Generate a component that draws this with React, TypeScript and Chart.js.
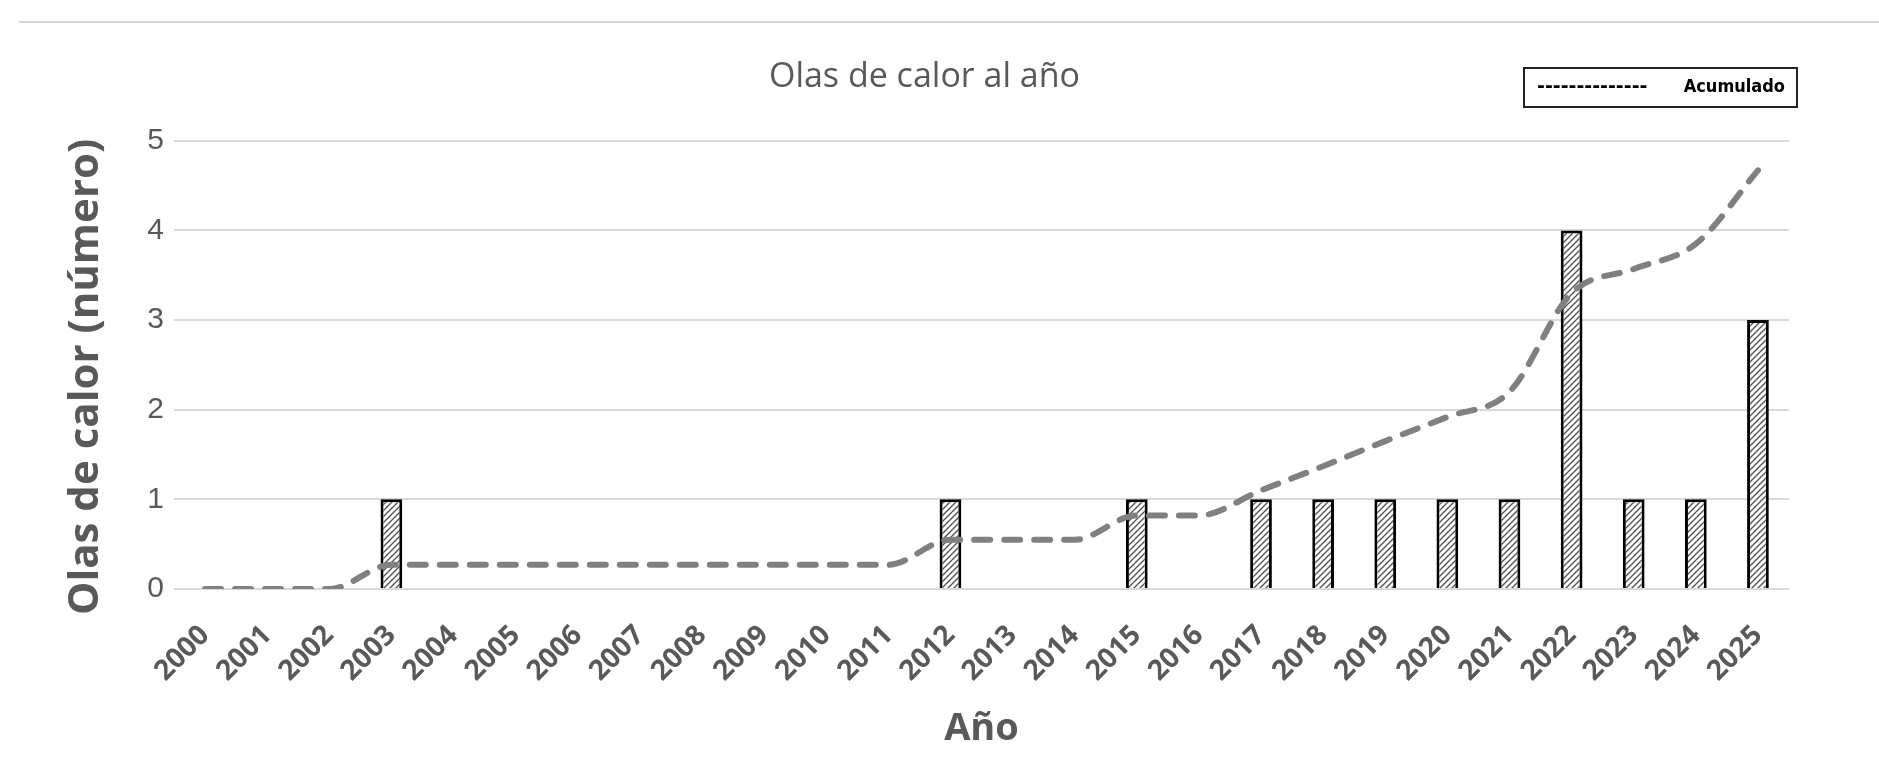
import React, { useEffect, useRef } from "react";
import { Chart, registerables } from "chart.js";

Chart.register(...registerables);

const years = [
  "2000", "2001", "2002", "2003", "2004", "2005", "2006", "2007", "2008", "2009",
  "2010", "2011", "2012", "2013", "2014", "2015", "2016", "2017", "2018", "2019",
  "2020", "2021", "2022", "2023", "2024", "2025",
];
const olas = [0, 0, 0, 1, 0, 0, 0, 0, 0, 0, 0, 0, 1, 0, 0, 1, 0, 1, 1, 1, 1, 1, 4, 1, 1, 3];
const acumulado = [
  0, 0, 0, 0.27, 0.27, 0.27, 0.27, 0.27, 0.27, 0.27, 0.27, 0.27, 0.55, 0.55, 0.55,
  0.82, 0.82, 1.1, 1.37, 1.65, 1.92, 2.2, 3.3, 3.57, 3.85, 4.67,
];
const yTicks = [0, 1, 2, 3, 4, 5];
const yTitle = "Olas de calor (número)";

const GREY_TEXT = "#595959";

function makeHatch(): CanvasPattern | string {
  const c = document.createElement("canvas");
  c.width = 6;
  c.height = 6;
  const g = c.getContext("2d");
  if (!g) return "#bbb";
  g.fillStyle = "#ffffff";
  g.fillRect(0, 0, 6, 6);
  g.strokeStyle = "#555555";
  g.lineWidth = 1.4;
  g.beginPath();
  g.moveTo(-1, 7);
  g.lineTo(7, -1);
  g.moveTo(-4, 4);
  g.lineTo(4, -4);
  g.moveTo(2, 10);
  g.lineTo(10, 2);
  g.stroke();
  const p = g.createPattern(c, "repeat");
  return p || "#bbb";
}

const extras = {
  id: "extras",
  afterDraw(chart: any) {
    const ctx = chart.ctx;
    const area = chart.chartArea;
    ctx.save();
    // y-axis title
    ctx.translate(area.left - 88, (area.top + area.bottom) / 2 + 12);
    ctx.rotate(-Math.PI / 2);
    ctx.fillStyle = GREY_TEXT;
    ctx.font = "bold 42px 'Open Sans'";
    ctx.textAlign = "center";
    ctx.textBaseline = "middle";
    ctx.fillText(yTitle, 0, 0);
    ctx.restore();

    // legend box
    const right = area.right + 8;
    const left = right - 273;
    const top = 68;
    const h = 39;
    ctx.save();
    ctx.fillStyle = "#ffffff";
    ctx.fillRect(left, top, right - left, h);
    ctx.strokeStyle = "#222222";
    ctx.lineWidth = 2;
    ctx.strokeRect(left, top, right - left, h);
    ctx.fillStyle = "#000000";
    ctx.textBaseline = "middle";
    ctx.textAlign = "left";
    ctx.font = "bold 19px 'DejaVu Sans'";
    ctx.fillText("--------------", left + 13, top + h / 2);
    ctx.textAlign = "right";
    ctx.font = "bold 18px 'Liberation Sans Narrow', 'DejaVu Sans Condensed', sans-serif";
    ctx.fillText("Acumulado", right - 12, top + h / 2);
    ctx.restore();
  },
};

export default function App() {
  const ref = useRef<HTMLCanvasElement | null>(null);

  useEffect(() => {
    if (!ref.current) return;
    const hatch = makeHatch();
    const chart = new Chart(ref.current, {
      type: "bar",
      data: {
        labels: years,
        datasets: [
          {
            type: "line",
            label: "Acumulado",
            data: acumulado,
            borderColor: "#808080",
            borderWidth: 6,
            borderDash: [16, 14],
            borderCapStyle: "round",
            pointRadius: 0,
            cubicInterpolationMode: "monotone",
            fill: false,
            order: 0,
          } as any,
          {
            type: "bar",
            label: "Olas de calor",
            data: olas,
            backgroundColor: hatch as any,
            borderColor: "#000000",
            borderWidth: 3,
            barPercentage: 0.35,
            categoryPercentage: 1,
            order: 1,
          } as any,
        ],
      },
      options: {
        responsive: true,
        maintainAspectRatio: false,
        animation: false,
        layout: { padding: { left: 60, right: 90, top: 30, bottom: 10 } },
        plugins: {
          legend: { display: false },
          tooltip: { enabled: false },
          title: {
            display: true,
            text: "Olas de calor al año",
            color: GREY_TEXT,
            font: { family: "'Open Sans'", size: 34, weight: "normal" },
            padding: { top: 27, bottom: 43 },
          },
        },
        scales: {
          x: {
            grid: { display: false, drawTicks: false },
            border: { display: false },
            ticks: {
              autoSkip: false,
              minRotation: 45,
              maxRotation: 45,
              padding: 30,
              color: GREY_TEXT,
              font: { family: "'Open Sans'", size: 28, weight: "bold" },
            },
            title: {
              display: true,
              text: "Año",
              color: GREY_TEXT,
              font: { family: "'Open Sans'", size: 38, weight: "bold" },
              padding: { top: 19, bottom: 19 },
            },
            afterFit(scale: any) {
              scale.height = 182;
            },
          },
          y: {
            min: 0,
            max: 5,
            afterBuildTicks(scale: any) {
              scale.ticks = yTicks.map((v) => ({ value: v }));
            },
            grid: { color: "#d9d9d9", lineWidth: 2, drawTicks: false },
            border: { display: false },
            ticks: {
              padding: 10,
              color: GREY_TEXT,
              font: { family: "'Liberation Sans'", size: 30 },
            },
            title: { display: false },
            afterFit(scale: any) {
              scale.width = 114;
            },
          },
        },
      },
      plugins: [extras],
    });
    return () => chart.destroy();
  }, []);

  return (
    <div
      style={{
        position: "absolute",
        left: 0,
        top: 0,
        width: 1879,
        height: 781,
        background: "#ffffff",
      }}
    >
      <div
        style={{
          position: "absolute",
          left: 19,
          right: 0,
          top: 21,
          height: 2,
          background: "#d4d4d4",
        }}
      />
      <canvas ref={ref} />
    </div>
  );
}
